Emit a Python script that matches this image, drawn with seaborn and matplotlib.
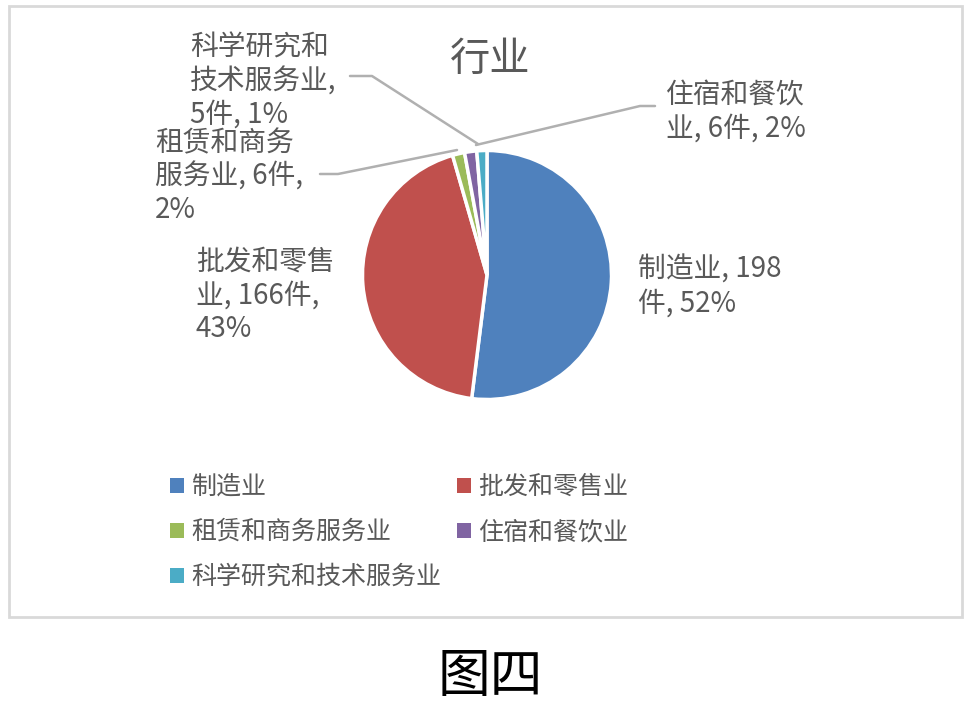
import matplotlib
matplotlib.use("Agg")
import matplotlib.pyplot as plt
from matplotlib.patches import Patch, Rectangle
from matplotlib.lines import Line2D
import seaborn as sns

# data
industries = ["制造业", "批发和零售业", "租赁和商务服务业", "住宿和餐饮业", "科学研究和技术服务业"]
counts = [198, 166, 6, 6, 5]
percents = [52, 43, 2, 2, 1]
colors = ["#4F81BD", "#C0504D", "#9BBB59", "#8064A2", "#4BACC6"]
# how the slice labels are wrapped in the reference
label_breaks = [
    "制造业, {n}\n件, {p}%",
    "批发和零售\n业, {n}件,\n{p}%",
    "租赁和商务\n服务业, {n}件,\n{p}%",
    "住宿和餐饮\n业, {n}件, {p}%",
    "科学研究和\n技术服务业,\n{n}件, {p}%",
]

sns.set_theme(style="white")
plt.rcParams["font.family"] = ["Noto Sans CJK SC", "DejaVu Sans"]

W, H = 965, 724
fig = plt.figure(figsize=(W / 100, H / 100), dpi=100)
fig.patch.set_facecolor("white")


def px(x, y):
    return x / W, 1 - y / H


grey = "#595959"

# chart frame
fig.patches.append(Rectangle(px(9, 617), (962 - 9) / W, (617 - 6) / H, transform=fig.transFigure,
                             fill=False, edgecolor="#d9d9d9", linewidth=2))

# pie, center (487, 275), radius 127
cx, cy, r = 487, 275, 127
ax = fig.add_axes([(cx - r) / W, 1 - (cy + r) / H, 2 * r / W, 2 * r / H])
ax.pie(counts, colors=colors, startangle=90, counterclock=False, radius=1,
       wedgeprops=dict(edgecolor="white", linewidth=2.5))
ax.set_xlim(-1.02, 1.02)
ax.set_ylim(-1.02, 1.02)
ax.set_aspect("equal")
ax.axis("off")

fig.text(*px(490, 60), "行业", ha="center", va="center", fontsize=29, color=grey,
         fontweight="light")

# slice labels
label_pos = [(638, 255), (196, 247), (155, 128), (666, 80), (190, 33)]
for tmpl, n, p, (x, y) in zip(label_breaks, counts, percents, label_pos):
    fig.text(*px(x, y), tmpl.format(n=n, p=p), ha="left", va="top",
             fontsize=20, color=grey, linespacing=1.15)

# leader lines
leaders = [
    [(350, 76), (372, 76), (478, 144)],
    [(320, 174), (338, 174), (457, 150)],
    [(655, 106), (640, 106), (476, 145)],
]
for pts in leaders:
    xs = [px(a, b)[0] for a, b in pts]
    ys = [px(a, b)[1] for a, b in pts]
    fig.add_artist(Line2D(xs, ys, transform=fig.transFigure, color="#b0b0b0", linewidth=1.8))

# legend, filled row by row
order = [0, 2, 4, 1, 3]
handles = [Patch(facecolor=colors[i], edgecolor="none") for i in order]
labels = [industries[i] for i in order]
fig.legend(handles, labels, ncol=2, loc="upper left", bbox_to_anchor=px(170, 474),
           frameon=False, fontsize=18, labelcolor=grey, handlelength=0.56, handleheight=0.56,
           handletextpad=0.3, columnspacing=0.6, labelspacing=0.76, borderpad=0, borderaxespad=0)

fig.text(*px(490, 676), "图四", ha="center", va="center", fontsize=38, color="black",
         fontweight="light")

fig.savefig("out.png", dpi=100)
